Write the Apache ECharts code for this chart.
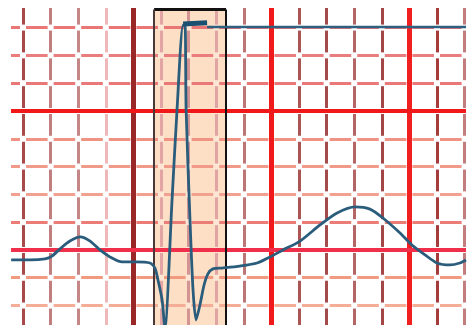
<!DOCTYPE html>
<html><head><meta charset="utf-8">
<script src="https://cdn.jsdelivr.net/npm/echarts@6/dist/echarts.min.js"></script>
<style>html,body{margin:0;padding:0;background:#fff}#c{width:471px;height:325px}</style>
</head><body><div id="c"></div>
<script>
// grid positions (in grid cells)
const vLines = [0,1,2,3,4,5,6,7,8,9,10,11,12,13,14,15,16];
const vMajor = [4,9,14];
const hLines = [-2,-1,0,1,2,3,4,5,6,7,8];
const hMajor = [0,5];
// highlighted window (x range)
const boxX = [4.75, 7.355];
// ECG trace
const ecgX = [-0.43,0.25,0.80,1.05,1.34,1.70,2.07,2.43,2.79,3.15,3.59,4.06,4.60,4.78,4.89,5.04,5.14,5.40,5.58,5.80,5.87,5.91,6.05,6.16,6.27,6.41,6.56,6.70,6.88,7.21,7.86,8.48,8.95,9.42,10.04,10.76,11.38,12.03,12.57,13.04,13.66,14.09,14.57,15.00,15.47,15.83,16.05];
const ecgY = [-0.36,-0.36,-0.32,-0.22,0.04,0.32,0.47,0.32,0.00,-0.25,-0.43,-0.43,-0.47,-0.65,-1.08,-1.80,-2.80,1.80,5.04,8.09,8.09,5.04,1.08,-1.44,-2.52,-1.98,-1.26,-0.86,-0.68,-0.65,-0.58,-0.47,-0.25,0.00,0.32,0.90,1.33,1.55,1.47,1.15,0.61,0.18,-0.18,-0.47,-0.54,-0.47,-0.36];
// top marker stroke and flat line
const markX = [5.80, 6.67];
const markY = [8.13, 8.17];
const flatX = [6.67, 16.05];
const flatY = [8.02, 8.02];

const X_MIN = -0.435, X_MAX = 16.05, Y_MIN = -2.70, Y_MAX = 8.705, BOX_TOP = 8.65;

const vColors = ['#a84a4a','#c07e7e','#c48686','#efb8b8','#9a2828','#e2a4a4','#d49494','#e0a4a4','#bc7676','#f01a1a','#aa5454','#a44c4c','#b46666','#a44646','#f02020','#a43c3c','#c27e7e'];
const hColors = {'-2':'#f4ae98','-1':'#f29a80','1':'#ec7c76','2':'#f2a090','3':'#f29a8a','4':'#f09284','6':'#ea7878','7':'#ea7e7e','8':'#ea7676'};

const minorLines = [];
vLines.filter(v=>!vMajor.includes(v)).forEach(v=>{
  minorLines.push([{coord:[v,Y_MAX],lineStyle:{color:vColors[v],width:3,type:'solid'}},{coord:[v,Y_MIN]}]);
});
hLines.filter(h=>!hMajor.includes(h)).forEach(h=>{
  minorLines.push([{coord:[X_MIN,h],lineStyle:{color:hColors[String(h)],width:3,type:'solid'}},{coord:[X_MAX,h]}]);
});
const majorLines = [];
vMajor.forEach(v=>{
  majorLines.push([{coord:[v,Y_MAX],lineStyle:{color:vColors[v],width:5,type:'solid'}},{coord:[v,Y_MIN]}]);
});
hMajor.forEach(h=>{
  majorLines.push([{coord:[X_MIN,h],lineStyle:{color:h===5?'#f01818':'#f0304a',width:4,type:'solid'}},{coord:[X_MAX,h]}]);
});
const gaps = [];
vLines.forEach(v=>hLines.forEach(h=>gaps.push([v,h])));

const chart = echarts.init(document.getElementById('c'), null, {renderer:'canvas'});
const ml = (data,z)=>({type:'line',data:[],z:z,silent:true,markLine:{z:z,silent:true,symbol:['none','none'],label:{show:false},emphasis:{disabled:true},animation:false,data:data}});
chart.setOption({
  animation:false,
  backgroundColor:'#ffffff',
  grid:{left:11,right:5,top:8,bottom:0,containLabel:false},
  xAxis:{type:'value',min:X_MIN,max:X_MAX,show:false,splitLine:{show:false}},
  yAxis:{type:'value',min:Y_MIN,max:Y_MAX,show:false,splitLine:{show:false}},
  series:[
    {type:'line',data:[],z:1,silent:true,markArea:{z:1,silent:true,itemStyle:{color:'#fddfc6',borderWidth:0},emphasis:{disabled:true},data:[[{coord:[boxX[0],Y_MIN]},{coord:[boxX[1],BOX_TOP]}]]}},
    ml(minorLines,2),
    {type:'scatter',z:3,silent:true,symbol:'rect',symbolSize:6,data:gaps,
      itemStyle:{opacity:1,color:p=>(p.value[0]>boxX[0]&&p.value[0]<boxX[1])?'#fde6d4':'#ffffff'}},
    ml(majorLines,4),
    ml([
      [{coord:[boxX[0],BOX_TOP],lineStyle:{color:'#111',width:3,type:'solid'}},{coord:[boxX[1],BOX_TOP]}],
      [{coord:[boxX[0],BOX_TOP],lineStyle:{color:'#4a3838',width:2,type:'solid'}},{coord:[boxX[0],Y_MIN]}],
      [{coord:[boxX[1],BOX_TOP],lineStyle:{color:'#111',width:2,type:'solid'}},{coord:[boxX[1],Y_MIN]}]
    ],5),
    {type:'line',z:6,silent:true,showSymbol:false,lineStyle:{color:'#2f6080',width:2.5},data:flatX.map((x,i)=>[x,flatY[i]])},
    {type:'line',z:7,silent:true,smooth:0.25,showSymbol:false,lineStyle:{color:'#2a5c7c',width:2.8},data:ecgX.map((x,i)=>[x,ecgY[i]])},
    {type:'line',z:8,silent:true,showSymbol:false,lineStyle:{color:'#1c5070',width:5},data:markX.map((x,i)=>[x,markY[i]])}
  ]
});
</script></body></html>
